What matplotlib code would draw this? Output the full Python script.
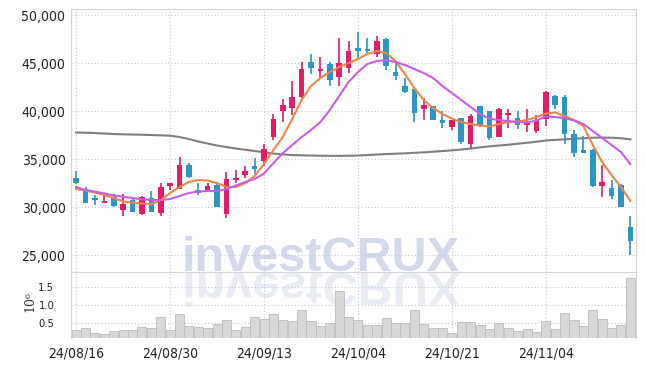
import matplotlib
matplotlib.use("Agg")
import matplotlib.pyplot as plt
import numpy as np
from matplotlib.textpath import TextPath
from matplotlib.patches import PathPatch
from matplotlib.font_manager import FontProperties, fontManager
from matplotlib.transforms import Affine2D, IdentityTransform

# daily candles 24/08/16 .. 24/11/15 (60 trading days)
opens = [33030, 31850, 30980, 30450, 31080, 29690, 30740, 29240, 30910, 29350,
         32230, 31880, 34390, 31780, 31780, 32300, 29240, 32790, 33340, 34310,
         34840, 37310, 40050, 40360, 41450, 45100, 44160, 44890, 43530, 44470,
         46620, 46520, 45960, 47530, 44060, 42630, 42310, 40260, 40540, 39080,
         38320, 39290, 36550, 40540, 40020, 37340, 39630, 39290, 38530, 37960,
         39220, 41580, 41510, 37620, 35950, 35950, 32230, 32020, 32300, 27950]
highs = [33790, 32120, 31260, 31190, 31330, 31330, 30900, 31190, 31710, 32540,
         32560, 35190, 34560, 32540, 32540, 32480, 33690, 33830, 34250, 35090,
         36580, 39670, 41270, 43150, 45100, 45930, 45620, 45100, 47600, 47320,
         48290, 47660, 47810, 47660, 45100, 43430, 42310, 41410, 40570, 40020,
         39110, 39290, 39670, 40570, 40020, 40300, 40200, 40050, 40260, 39570,
         42100, 41660, 41660, 38040, 37410, 36020, 34390, 32820, 32410, 29070]
lows = [32400, 30400, 30210, 30390, 30040, 29070, 29450, 29170, 29450, 29100,
        31780, 31850, 33000, 31290, 31680, 30000, 28830, 32480, 33060, 33420,
        34280, 37030, 38900, 39600, 41340, 43850, 43490, 42600, 42600, 44010,
        45520, 46040, 45680, 44300, 43250, 41870, 38840, 39080, 39110, 38210,
        38040, 36550, 36130, 38380, 36990, 37280, 38210, 38110, 37830, 37690,
        38450, 40200, 36580, 35190, 35610, 32120, 31080, 30870, 29980, 25000]
closes = [32480, 30450, 30770, 30660, 30110, 30320, 29520, 31080, 29480, 32060,
          32510, 34390, 33170, 31430, 32200, 30040, 32930, 33060, 33790, 33970,
          36060, 39180, 40640, 41510, 44400, 44470, 44430, 43220, 45030, 46280,
          46310, 46310, 47350, 44740, 43670, 42030, 39840, 40640, 39110, 38800,
          39050, 36820, 39530, 38560, 37230, 40200, 39840, 38590, 38800, 39080,
          42000, 40610, 37590, 35670, 35670, 32200, 32580, 31190, 30040, 26490]

# moving averages as drawn
ma5 = [31883, 31727, 31518, 31257, 30945, 30579, 30475, 30371, 30319, 30736,
       31466, 32092, 32613, 32822, 32770, 32509, 32092, 32092, 32509, 33239,
       34491, 35951, 37307, 39184, 41166, 42626, 43461, 44086, 44608, 45025,
       45442, 45964, 46277, 46068, 45234, 43878, 42418, 41166, 40332, 39706,
       39236, 38871, 38663, 38506, 38402, 38663, 38871, 38924, 39080, 39393,
       39758, 39862, 39497, 39080, 38454, 36472, 34699, 33343, 32092, 30632]
ma10 = [32092, 31779, 31622, 31414, 31205, 31080, 30945, 30809, 30736, 30736,
        30840, 31153, 31466, 31622, 31675, 31675, 31883, 32248, 32613, 32926,
        33500, 34595, 35638, 36472, 37307, 38037, 38871, 40123, 41583, 43043,
        44086, 44921, 45234, 45338, 45129, 44816, 44399, 43982, 43461, 42626,
        41896, 41166, 40436, 39706, 39236, 39080, 38976, 38871, 38819, 39028,
        39445, 39393, 39289, 39028, 38663, 37933, 37203, 36472, 35742, 34491]
ma_long = [37776, 37755, 37724, 37672, 37620, 37589, 37568, 37547, 37516, 37484,
           37443, 37307, 37098, 36838, 36629, 36420, 36264, 36107, 35982, 35847,
           35711, 35586, 35503, 35429, 35398, 35377, 35356, 35346, 35346, 35356,
           35377, 35429, 35482, 35534, 35565, 35607, 35659, 35711, 35774, 35847,
           35920, 36003, 36107, 36233, 36337, 36420, 36504, 36608, 36712, 36817,
           36942, 37015, 37067, 37130, 37182, 37234, 37255, 37234, 37182, 37067]

# volume in millions of shares
volume = [0.29, 0.34, 0.21, 0.17, 0.27, 0.29, 0.29, 0.37, 0.34, 0.65,
          0.29, 0.75, 0.41, 0.38, 0.35, 0.46, 0.57, 0.29, 0.37, 0.65,
          0.60, 0.74, 0.58, 0.55, 0.86, 0.55, 0.42, 0.50, 1.40, 0.65,
          0.58, 0.44, 0.44, 0.62, 0.50, 0.48, 0.86, 0.46, 0.35, 0.35,
          0.22, 0.53, 0.53, 0.44, 0.32, 0.48, 0.35, 0.27, 0.31, 0.24,
          0.55, 0.32, 0.77, 0.58, 0.41, 0.86, 0.60, 0.34, 0.44, 1.75]

tick_pos = [0, 10, 20, 30, 40, 50]
tick_labels = ["24/08/16", "24/08/30", "24/09/13", "24/10/04", "24/10/21", "24/11/04"]
price_ticks = [25000, 30000, 35000, 40000, 45000, 50000]
vol_ticks = [0.5, 1.0, 1.5]

UP = "#e31c67"
DOWN = "#2b95c7"
GRID = "#c4c6dc"
FRAME = "#d4d4d4"

# condensed face for the axis labels if one is around
names = sorted(set(f.name for f in fontManager.ttflist))
print([n for n in names if "Narrow" in n or "Condensed" in n])
cond = [f for f in fontManager.ttflist if f.name == "DejaVu Sans" and "ondensed" in str(f.stretch) + f.fname]
print([(f.fname, f.stretch, f.weight) for f in cond])
if "Liberation Sans Narrow" in names:
    lab = FontProperties(family="Liberation Sans Narrow", size=11)
elif cond:
    lab = FontProperties(family="DejaVu Sans", stretch="condensed", size=10)
else:
    lab = FontProperties(family="DejaVu Sans", size=10)

fig = plt.figure(figsize=(6.45, 3.66), dpi=100)
ax = fig.add_axes([0.1101, 0.2568, 0.8752, 0.7186])
axv = fig.add_axes([0.1101, 0.0765, 0.8752, 0.1803], sharex=ax)
ax.set_facecolor("none")
axv.set_facecolor("none")

x = np.arange(len(closes))
o = np.array(opens)
c = np.array(closes)
up = c >= o
colors = np.where(up, UP, DOWN)

# watermark + reflection
wm_font = FontProperties(family="Liberation Sans", weight="bold", size=35)
fig.text(182 / 645, 1 - 271 / 366, "investCRUX", fontproperties=wm_font,
         color="#d3d8ea", ha="left", va="baseline", zorder=-2)
tp = TextPath((0, 0), "investCRUX", size=35 * 100 / 72, prop=wm_font)
refl = PathPatch(tp, transform=Affine2D().scale(1, -0.95).translate(182, 366 - 273) + IdentityTransform(),
                 facecolor="#e2e5f0", edgecolor="none", alpha=0.7, zorder=-2)
fig.patches.append(refl)

# long MA
ax.plot(x, ma_long, color="#7f7f7f", lw=1.5, zorder=2)

# candles
ax.vlines(x, lows, highs, colors=colors, lw=1.2, zorder=3)
body_h = np.maximum(np.abs(c - o), 150)
ax.bar(x, body_h, bottom=np.minimum(o, c), width=0.6, color=colors, zorder=4)

ax.plot(x, ma5, color="#ef8448", lw=1.5, zorder=5)
ax.plot(x, ma10, color="#c95ee6", lw=1.5, zorder=5)

ax.set_xlim(-0.55, 59.55)
ax.set_ylim(23230, 50660)
ax.set_yticks(price_ticks)
ax.set_yticklabels(["{:,}".format(v) for v in price_ticks], fontproperties=lab, color="#222222")
ax.set_xticks(tick_pos)
ax.tick_params(axis="x", labelbottom=False, length=0)
ax.tick_params(axis="y", length=0, pad=4)
ax.grid(True, color=GRID, linestyle=(0, (1, 2)), lw=0.8)
for s in ax.spines.values():
    s.set_color(FRAME)

# volume
axv.bar(x, volume, width=0.96, color="#d8d8d8", edgecolor="#bcbcbc", lw=0.6, zorder=3)
axv.set_ylim(0.07, 1.93)
axv.set_yticks(vol_ticks)
vlab = lab.copy()
vlab.set_size(lab.get_size() * 0.8)
axv.set_yticklabels(["0.5", "1.0", "1.5"], fontproperties=vlab, color="#222222")
axv.set_xticks(tick_pos)
axv.set_xticklabels(tick_labels, fontproperties=lab, color="#222222")
axv.tick_params(axis="y", length=0, pad=12)
axv.tick_params(axis="x", length=0, pad=6)
axv.grid(True, color=GRID, linestyle=(0, (1, 2)), lw=0.8)
for s in axv.spines.values():
    s.set_color(FRAME)
axv.spines["bottom"].set_visible(False)
axv.spines["top"].set_visible(False)
fig.text(30 / 645, 1 - 301 / 366, "10\u2076", family="DejaVu Serif", fontsize=9,
         rotation=90, ha="center", va="center", color="#333333")

fig.savefig("out.png", dpi=100)
